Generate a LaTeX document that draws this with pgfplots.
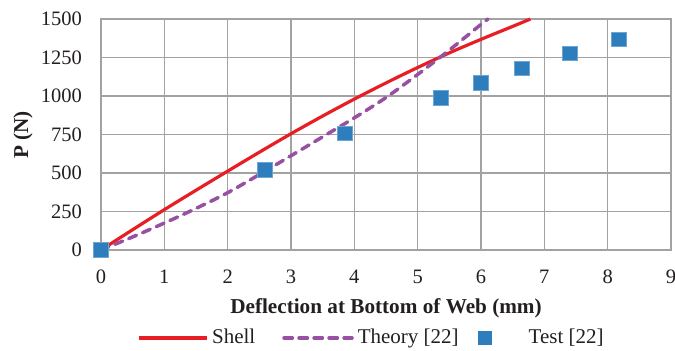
\documentclass[border=0pt]{standalone}
\usepackage{fontspec}
\setmainfont{Liberation Serif}
\usepackage{pgfplots}
\pgfplotsset{compat=1.18}

\definecolor{shellred}{RGB}{232,30,37}
\definecolor{theorypurple}{RGB}{152,80,163}
\definecolor{testblue}{RGB}{46,125,189}
\definecolor{gridgray}{RGB}{162,162,162}
\definecolor{textdark}{RGB}{35,31,32}

\newcommand{\chartfont}{\rmfamily\fontsize{10.25}{12}\selectfont}
\newcommand{\legendfont}{\rmfamily\fontsize{10.5}{12}\selectfont}
\newcommand{\labelfont}{\rmfamily\bfseries\fontsize{10.6}{12}\selectfont}

% legend samples: a 34pt line, or a single square swatch
\pgfplotsset{
  linelegend/.style={legend image code/.code={\draw[##1] (0pt,0pt) -- (34pt,0pt);}},
  squarelegend/.style={legend image code/.code={
    \fill[testblue, draw=none] (0pt,-3.6pt) rectangle (7.2pt,3.6pt);
    \path[draw=none, fill=none] (0pt,0pt) -- (23.5pt,0pt);}},
}

\begin{document}
\begin{tikzpicture}
\path[use as bounding box] (0,0) rectangle (337.5pt,175pt);
\begin{axis}[
  at={(50.5pt,50pt)}, anchor=south west,
  scale only axis, width=285pt, height=115.5pt,
  xmin=0, xmax=9, ymin=0, ymax=1500,
  xtick={0,1,...,9}, ytick={0,250,...,1500},
  grid=major,
  major grid style={gridgray, line width=0.6pt},
  axis line style={gridgray, line width=0.6pt},
  major tick length=0pt,
  clip=false,
  tick label style={font=\chartfont, text=textdark},
  /pgf/number format/assume math mode=true,
  /pgf/number format/1000 sep={},
  xticklabel style={yshift=-6.5pt},
  yticklabel style={xshift=-6pt},
  xlabel={Deflection at Bottom of Web (mm)},
  ylabel={P (N)},
  label style={font=\labelfont, text=textdark},
  xlabel style={at={(axis description cs:0.5,-0.251)}, anchor=center},
  ylabel style={at={(axis description cs:-0.137,0.498)}, anchor=center},
  legend columns=3,
  legend style={
    at={(axis description cs:0.063,-0.381)}, anchor=west,
    draw=none, fill=none, font=\legendfont, text=textdark,
    inner sep=0pt, outer sep=0pt,
    /tikz/column 2/.style={column sep=11.5pt},
    /tikz/column 4/.style={column sep=7.5pt},
  },
]

% Shell model
\addplot[shellred, line width=1.6pt, no marks, smooth, linelegend]
  coordinates {
  (0,0) (0.5,132) (1,262) (1.5,388) (2,512) (2.5,635) (3,755)
  (3.5,870) (4,980) (4.5,1085) (5,1185) (5.5,1280) (6,1368)
  (6.5,1452) (6.78,1500)
};
\addlegendentry{Shell}

% Theory [22]
\addplot[theorypurple, line width=1.75pt, no marks, smooth,
  line cap=round, dash pattern=on 4.2pt off 3.3pt, linelegend]
  coordinates {
  (0,0) (0.5,85) (1,175) (1.5,270) (2,372) (2.5,490) (3,612)
  (3.5,735) (4,858) (4.5,990) (5,1140) (5.5,1298) (6,1465)
  (6.11,1500)
};
\addlegendentry{Theory [22]}

% Test [22]
\addplot[only marks, mark=square*, mark size=3.7pt,
  mark options={fill=testblue, draw=testblue!70!white, line width=0.3pt},
  squarelegend]
  coordinates {
  (0,0) (2.59,519) (3.85,758) (5.36,989) (6.0,1086)
  (6.65,1180) (7.40,1277) (8.18,1368)
};
\addlegendentry{Test [22]}

\end{axis}
\end{tikzpicture}
\end{document}
